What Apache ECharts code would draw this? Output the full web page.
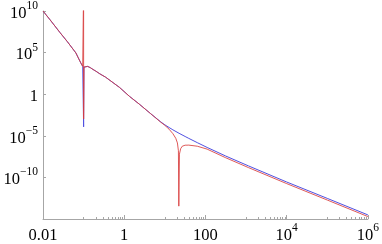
<!DOCTYPE html>
<html><head><meta charset="utf-8">
<script src="https://cdn.jsdelivr.net/npm/echarts@6/dist/echarts.min.js"></script>
<style>html,body{margin:0;padding:0;background:#fff}#c{width:382px;height:244px}</style>
</head><body><div id="c"></div>
<script>
// ---- data ----
const blueX = [0.01,0.015,0.0263,0.04,0.0646,0.0741,0.0851,0.095,0.1,0.102,0.112,0.126,0.148,0.17,0.2,0.251,0.347,0.764,1.34,2.34,4.47,7.94,10,12.7,15.8,22.4,31.6,38.9,63,110,316,1150,1e4,1e5,1e6];
const blueY = [1e10,8.5e8,2.5e7,2.0e6,9.1e4,2.3e4,5.9e3,2.2e3,1.2e-4,1.8e3,2.3e3,2.2e3,1.5e3,950,590,280,112,6.6,0.56,0.065,4.6e-3,4.7e-4,2.1e-4,1.0e-4,5.2e-5,2.0e-5,8.3e-6,4.9e-6,1.5e-6,4.0e-7,3.7e-8,2.4e-9,2.8e-11,3.0e-13,3.1e-15];
const redX = [0.01,0.015,0.0263,0.04,0.0646,0.0741,0.0851,0.095,0.1,0.1,0.102,0.112,0.126,0.148,0.17,0.2,0.251,0.347,0.764,1.34,2.34,4.47,7.94,10,12.7,15.8,18.6,20.4,21.6,22.1,22.9,24.5,26.9,31.6,38.9,63,110,316,1150,1e4,1e5,1e6];
const redY = [1e10,8.5e8,2.5e7,2.0e6,9.1e4,2.3e4,5.9e3,2.2e3,1e13,1.05e-3,1.8e3,2.3e3,2.2e3,1.5e3,950,590,280,112,6.6,0.56,0.065,4.6e-3,4.3e-4,1.8e-4,6.3e-5,1.8e-5,5e-6,1.4e-6,1.6e-7,3.5e-14,6.3e-8,2.8e-7,5.6e-7,7.4e-7,7.6e-7,5.6e-7,2.5e-7,2.3e-8,1.5e-9,1.8e-11,1.9e-13,1.95e-15];

const xTickValues = [0.01,1,100,1e4,1e6];
const xTickLabels = ['0.01','1','100','10^4','10^6'];
const xMinorTicks = [0.1,0.2,0.3,0.4,0.5,0.6,0.7,0.8,0.9,10,20,30,40,50,60,70,80,90,1000,2000,3000,4000,5000,6000,7000,8000,9000,1e5,2e5,3e5,4e5,5e5,6e5,7e5,8e5,9e5];
const yTickValues = [1e-10,1e-5,1,1e5,1e10];
const yTickLabels = ['10^\u221210','10^\u22125','1','10^5','10^10'];

function zip(xs, ys){ return xs.map((x,i)=>[x, ys[i]]); }
function rich(t){
  const p = t.split('^');
  return p.length > 1 ? '{b|' + p[0] + '}{s|' + p[1] + '}' : '{b|' + t + '}';
}
function makeFmt(vals, labels){
  return function(v){
    for (let i=0;i<vals.length;i++){
      if (Math.abs(Math.log10(v) - Math.log10(vals[i])) < 1e-6) return rich(labels[i]);
    }
    return '';
  };
}
const FONT = 'Liberation Serif';
const richStyle = {
  b: {fontFamily: FONT, fontSize: 16.5, color: '#000', lineHeight: 22, verticalAlign: 'bottom'},
  s: {fontFamily: FONT, fontSize: 11.5, color: '#000', lineHeight: 12, verticalAlign: 'top'}
};
const axisGray = '#a6a6a6';

const chart = echarts.init(document.getElementById('c'), null, {renderer: 'canvas'});
chart.setOption({
  animation: false,
  backgroundColor: '#fff',
  grid: {left: 43, right: 12, top: 11, bottom: 23, containLabel: false},
  xAxis: [{
    type: 'log', logBase: 10, min: 0.01, max: 1e6, position: 'bottom', offset: 0,
    axisLine: {show: true, lineStyle: {color: axisGray, width: 1}},
    axisTick: {show: true, inside: true, length: 4, customValues: xTickValues, lineStyle: {color: axisGray}},
    minorTick: {show: false},
    splitLine: {show: false},
    axisLabel: {show: true, margin: 3, customValues: xTickValues, formatter: makeFmt(xTickValues, xTickLabels), rich: richStyle}
  }, {
    type: 'log', logBase: 10, min: 0.01, max: 1e6, position: 'bottom', offset: 0,
    axisLine: {show: false},
    axisTick: {show: true, inside: true, length: 2, customValues: xMinorTicks, lineStyle: {color: axisGray}},
    splitLine: {show: false},
    axisLabel: {show: false}
  }],
  yAxis: {
    type: 'log', logBase: 10, min: 1e-15, max: 1e10,
    axisLine: {show: true, lineStyle: {color: axisGray, width: 1}},
    axisTick: {show: true, inside: true, length: 3, customValues: yTickValues, lineStyle: {color: axisGray}},
    splitLine: {show: false},
    axisLabel: {show: true, margin: 5, customValues: yTickValues, formatter: makeFmt(yTickValues, yTickLabels), rich: richStyle}
  },
  series: [{
    type: 'line', xAxisIndex: 0, data: zip(blueX, blueY), showSymbol: false, symbol: 'none', clip: true,
    lineStyle: {color: '#5050e0', width: 1}, z: 2
  }, {
    type: 'line', xAxisIndex: 0, data: zip(redX, redY), showSymbol: false, symbol: 'none', clip: true,
    lineStyle: {color: '#d83c3c', width: 1, opacity: 0.85}, z: 3
  }]
});
</script>
</body></html>
